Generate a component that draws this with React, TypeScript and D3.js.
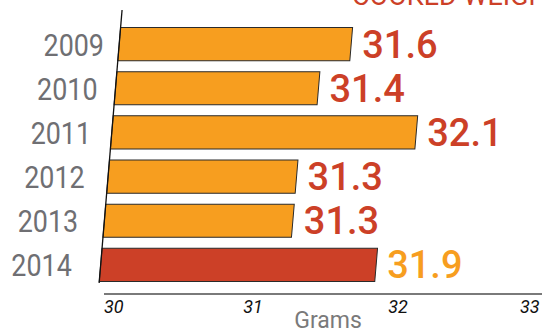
import React from "react";
import * as d3 from "d3";

// Cooked weight per year, grams
const years = ["2009", "2010", "2011", "2012", "2013", "2014"];
const grams = [31.6, 31.4, 32.1, 31.3, 31.3, 31.9];
const tickValues = [30, 31, 32, 33];
const highlightYear = "2014";

const W = 542;
const H = 331;
const SKEW_DEG = -4.8;
const K = Math.tan((-SKEW_DEG * Math.PI) / 180);

const ORANGE = "#f79e1f";
const RED = "#cc4027";
const GRAY = "#6f6f73";

export default function App() {
  // x scale lives in the skewed frame; y is unaffected by skewX
  const x = d3.scaleLinear().domain([30, 33]).range([122.9, 122.9 + 435]);
  const y = d3
    .scaleBand<string>()
    .domain(years)
    .range([27.5, 281.5])
    .paddingInner(0.25)
    .paddingOuter(0);

  const axisY = 294;
  const axisTop = 10;
  const axisBottom = 283;
  const screenX = (v: number, yy: number) => x(v) - K * yy;

  return (
    <svg
      width={W}
      height={H}
      style={{ position: "absolute", left: 0, top: 0 }}
      fontFamily="Roboto, sans-serif"
    >
      {/* header, partly off the top edge */}
      <text x={352} y={5} fontSize={27} fill={RED}>
        COOKED WEIGHT
      </text>

      <g transform={`skewX(${SKEW_DEG})`}>
        {years.map((yr, i) => (
          <rect
            key={yr}
            x={x(30)}
            y={y(yr)!}
            width={x(grams[i]) - x(30)}
            height={y.bandwidth()}
            fill={yr === highlightYear ? RED : ORANGE}
            stroke="#2a2a2a"
            strokeWidth={1}
          />
        ))}
        <line
          x1={x(30)}
          x2={x(30)}
          y1={axisTop}
          y2={axisBottom}
          stroke="#111"
          strokeWidth={1.3}
        />
      </g>

      {/* year labels */}
      {years.map((yr) => {
        const cy = y(yr)! + y.bandwidth() / 2;
        const xr = 104 - 0.146 * (cy - 44);
        return (
          <text
            key={yr}
            transform={`translate(${xr},${cy + 11.5}) scale(0.84,1)`}
            textAnchor="end"
            fontSize={32}
            fill={GRAY}
          >
            {yr}
          </text>
        );
      })}

      {/* value labels */}
      {years.map((yr, i) => {
        const cy = y(yr)! + y.bandwidth() / 2;
        return (
          <text
            key={yr}
            x={screenX(grams[i], cy) + 11}
            y={cy + 13.5}
            fontSize={38}
            fontWeight={500}
            fill={yr === highlightYear ? ORANGE : RED}
          >
            {grams[i].toFixed(1)}
          </text>
        );
      })}

      {/* bottom axis */}
      <line x1={104} x2={W} y1={axisY} y2={axisY} stroke="#7a7a7a" strokeWidth={2} />
      {tickValues.map((v) => {
        const pos = screenX(v, axisY);
        const tx = Math.min(Math.max(pos, 104), W - 22);
        return (
          <text
            key={v}
            x={tx}
            y={313}
            fontSize={18}
            fontStyle="italic"
            fill="#111"
          >
            {v}
          </text>
        );
      })}
      <text x={328} y={328} textAnchor="middle" fontSize={23} fill="#7a7a7a">
        Grams
      </text>
    </svg>
  );
}
